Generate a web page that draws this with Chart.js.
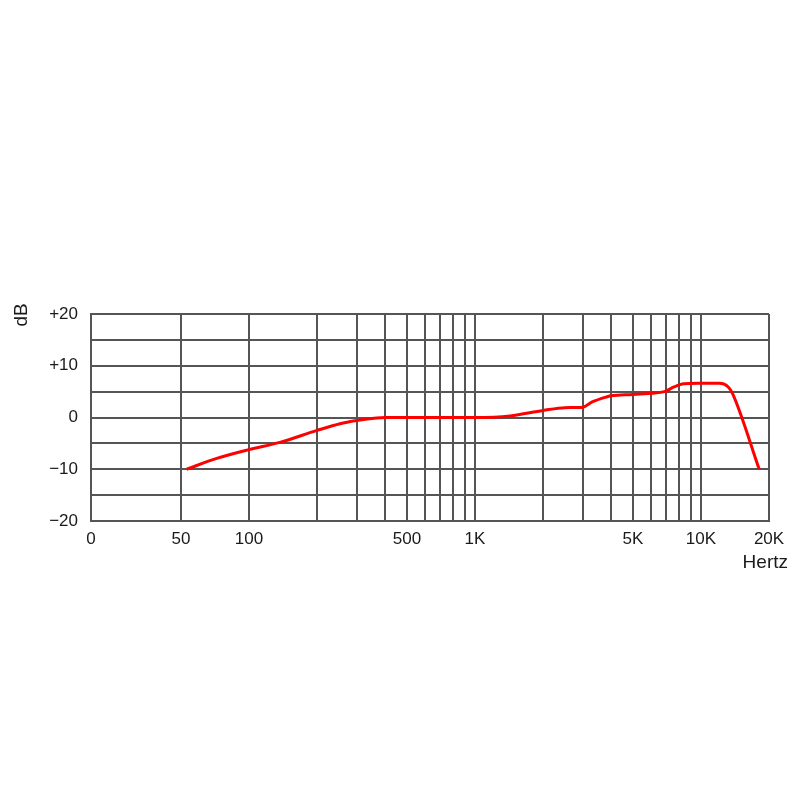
<!DOCTYPE html>
<html>
<head>
<meta charset="utf-8">
<script src="https://cdn.jsdelivr.net/npm/chart.js@4"></script>
<style>
  html, body { margin: 0; padding: 0; background: #fff; }
  #wrap { width: 800px; height: 800px; }
</style>
</head>
<body>
<div id="wrap"><canvas id="myChart" width="800" height="800"></canvas></div>
<script>
// frequency response
const freqs = [53, 72, 100, 137, 200, 253, 300, 367, 400, 700, 1000, 1430, 2000, 2500, 3000, 3300, 3840, 4000, 5000, 6000, 6900, 7600, 8400, 9700, 12100, 13200, 13800, 18100];
const dbs = [-10, -7.9, -6.2, -4.8, -2.5, -1.2, -0.6, -0.1, 0, 0, 0, 0.3, 1.35, 1.9, 2.0, 3.0, 4.0, 4.2, 4.45, 4.7, 5.0, 5.9, 6.5, 6.6, 6.6, 5.9, 4.6, -10];

const gridFreqs = [20, 50, 100, 200, 300, 400, 500, 600, 700, 800, 900, 1000, 2000, 3000, 4000, 5000, 6000, 7000, 8000, 9000, 10000, 20000];
const xLabels = { 20: "0", 50: "50", 100: "100", 500: "500", 1000: "1K", 5000: "5K", 10000: "10K", 20000: "20K" };
const yLabels = { 20: "+20", 10: "+10", 0: "0", "-10": "\u221210", "-20": "\u221220" };

const gridColor = "#555";
const textColor = "#1a1a1a";
const fontFamily = "'Liberation Sans', Arial, sans-serif";

const axisTitles = {
  id: "axisTitles",
  afterDraw(chart) {
    const c = chart.ctx;
    c.save();
    c.fillStyle = textColor;
    c.font = "19px " + fontFamily;
    c.textAlign = "right";
    c.textBaseline = "middle";
    c.fillText("Hertz", 788, 563);
    c.translate(22, 315);
    c.rotate(-Math.PI / 2);
    c.textAlign = "center";
    c.fillText("dB", 0, 0);
    c.restore();
  },
};

const ctx = document.getElementById("myChart");
const myChart = new Chart(ctx, {
  type: "line",
  data: {
    datasets: [
      {
        data: freqs.map((f, i) => ({ x: f, y: dbs[i] })),
        borderColor: "#ff0000",
        borderWidth: 3,
        pointRadius: 0,
        cubicInterpolationMode: "monotone",
        fill: false,
      },
    ],
  },
  options: {
    responsive: false,
    animation: false,
    layout: {
      padding: { top: 314, right: 31, bottom: 0, left: 0 },
    },
    plugins: {
      legend: false,
      tooltip: { enabled: false },
    },
    scales: {
      x: {
        type: "logarithmic",
        min: 20,
        max: 20000,
        afterBuildTicks: (scale) => {
          scale.ticks = gridFreqs.map((v) => ({ value: v }));
        },
        afterFit: (scale) => {
          scale.height = 279;
        },
        grid: { color: gridColor, lineWidth: 2, drawTicks: false },
        border: { color: gridColor, width: 2 },
        ticks: {
          autoSkip: false,
          maxRotation: 0,
          padding: 8,
          color: textColor,
          font: { family: fontFamily, size: 17 },
          callback: (v) => xLabels[v] || "",
        },
      },
      y: {
        min: -20,
        max: 20,
        afterFit: (scale) => {
          scale.width = 91;
        },
        grid: { color: gridColor, lineWidth: 2, drawTicks: false },
        border: { color: gridColor, width: 2 },
        ticks: {
          stepSize: 5,
          padding: 13,
          color: textColor,
          font: { family: fontFamily, size: 17 },
          callback: (v) => yLabels[v] || "",
        },
      },
    },
  },
  plugins: [axisTitles],
});
</script>
</body>
</html>
